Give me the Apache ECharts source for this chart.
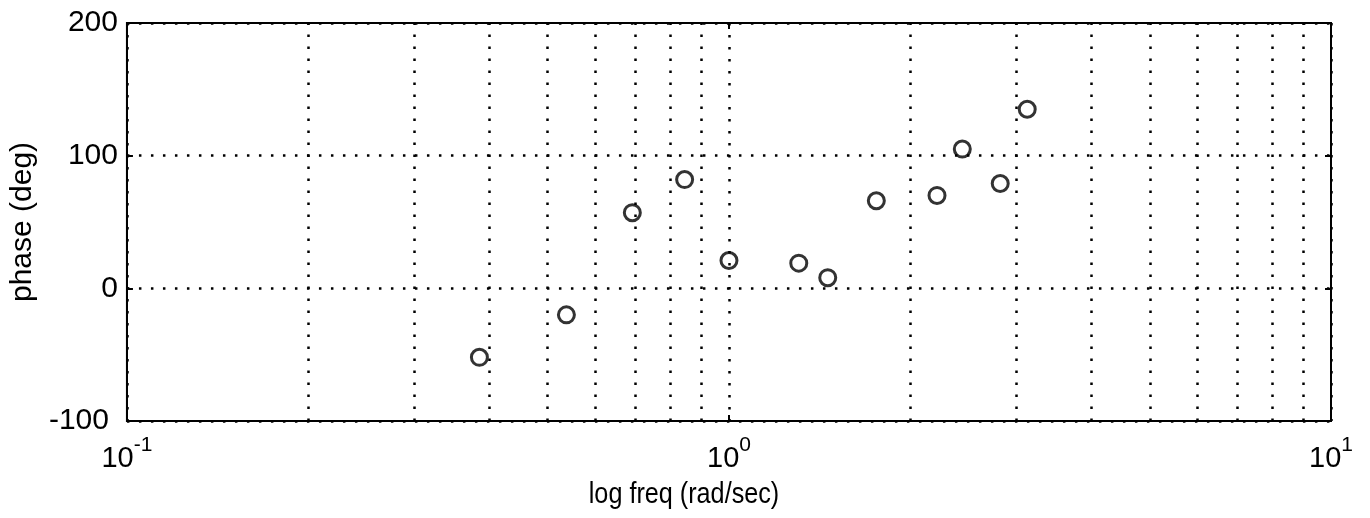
<!DOCTYPE html>
<html>
<head>
<meta charset="utf-8">
<script src="https://cdn.jsdelivr.net/npm/echarts@6/dist/echarts.min.js"></script>
<style>html,body{margin:0;padding:0;background:#fff;}#c{width:1370px;height:518px;}</style>
</head>
<body>
<div id="c"></div>
<script>
const freq = [0.385, 0.537, 0.691, 0.844, 1.0, 1.306, 1.459, 1.757, 2.216, 2.441, 2.822, 3.129];
const phase = [-52, -20, 57, 82, 21, 19, 8, 66, 70, 105, 79, 135];
const minorGrid = [0.2, 0.3, 0.4, 0.5, 0.6, 0.7, 0.8, 0.9, 2, 3, 4, 5, 6, 7, 8, 9];
const yTicks = [-100, 0, 100, 200];
const xTitle = 'log freq (rad/sec)';
const yTitle = 'phase (deg)';

const FONT = 'Liberation Sans';
const dotted = {color: '#000', width: 2.5, type: [2.5, 9.5]};

const chart = echarts.init(document.getElementById('c'), null, {renderer: 'canvas'});
const expLabel = v => {
  const e = Math.round(Math.log10(v));
  return '{b|10}{s|' + e + '}';
};
const axisLine = {show: true, onZero: false, lineStyle: {color: '#000', width: 2}};
const tick = {show: true, inside: true, length: 6, lineStyle: {color: '#000', width: 2}};
chart.setOption({
  animation: false,
  backgroundColor: '#fff',
  textStyle: {fontFamily: FONT, color: '#000'},
  graphic: [{
    type: 'text', x: 684, y: 480, scaleX: 0.84, silent: true,
    style: {text: xTitle, font: '30px "Liberation Sans"', fill: '#000', align: 'center', verticalAlign: 'top'}
  }],
  grid: {left: 126, top: 23, width: 1205, height: 398, show: true, borderColor: '#000', borderWidth: 2, backgroundColor: 'transparent'},
  xAxis: [{
    type: 'log', logBase: 10, min: 0.1, max: 10,
    axisLine: axisLine, axisTick: tick,
    splitLine: {show: true, lineStyle: dotted},
    axisLabel: {
      margin: 14, color: '#000', fontFamily: FONT,
      formatter: expLabel,
      rich: {
        b: {fontSize: 29, fontFamily: FONT, color: '#000'},
        s: {fontSize: 21, padding: [0, 0, 27, 0], fontFamily: FONT, color: '#000'}
      }
    }
  }, {
    type: 'log', logBase: 10, min: 0.1, max: 10, position: 'top',
    axisLine: axisLine, axisTick: tick,
    axisLabel: {show: false}, splitLine: {show: false}
  }],
  yAxis: [{
    type: 'value', min: yTicks[0], max: yTicks[yTicks.length - 1], interval: 100,
    axisLine: axisLine, axisTick: tick,
    splitLine: {show: true, lineStyle: dotted},
    axisLabel: {
      fontSize: 30, margin: 9, color: '#000', fontFamily: FONT,
      formatter: v => v < 0 ? '{n|' + v + '}' : String(v),
      rich: {n: {fontSize: 30, fontFamily: FONT, color: '#000', padding: [0, 9, 0, 0]}}
    },
    name: yTitle, nameLocation: 'middle', nameGap: 86, nameRotate: 90,
    nameTextStyle: {fontSize: 30, fontFamily: FONT, color: '#000'}
  }, {
    type: 'value', min: yTicks[0], max: yTicks[yTicks.length - 1], interval: 100, position: 'right',
    axisLine: axisLine, axisTick: tick,
    axisLabel: {show: false}, splitLine: {show: false}
  }],
  series: [{
    type: 'scatter',
    data: freq.map((f, i) => [f, phase[i]]),
    symbol: 'circle', symbolSize: 16,
    itemStyle: {color: 'transparent', borderColor: '#000', borderWidth: 3},
    markLine: {
      silent: true, symbol: 'none', label: {show: false},
      lineStyle: dotted,
      data: minorGrid.map(v => ({xAxis: v}))
    },
    z: 5
  }]
});
</script>
</body>
</html>
